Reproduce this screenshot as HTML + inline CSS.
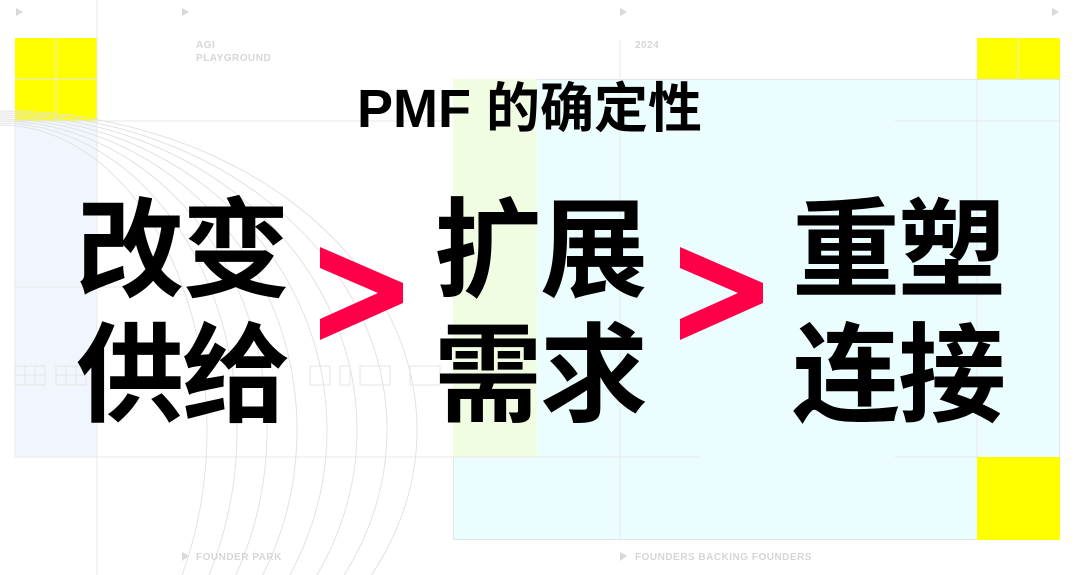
<!DOCTYPE html>
<html><head><meta charset="utf-8"><style>
html,body{margin:0;padding:0;background:#fff;width:1080px;height:575px;overflow:hidden;}
.w{position:relative;width:1080px;height:575px;overflow:hidden;font-family:"Liberation Sans","Noto Sans CJK SC",sans-serif;}
.a{position:absolute;}
.big{position:absolute;font-family:"Noto Sans CJK SC",sans-serif;font-weight:700;font-size:108px;line-height:125px;height:250px;color:#000;letter-spacing:-2px;white-space:nowrap;}
.lbl{position:absolute;font-size:10px;font-weight:bold;color:#d6d6d6;letter-spacing:0.5px;line-height:13px;}
</style></head><body><div class="w">
<div class="a" style="left:15px;top:121px;width:82px;height:336px;background:#f1f6fe"></div>
<div class="a" style="left:453px;top:79px;width:607px;height:461px;background:#ebfdfe;border:1px solid #e2e8ea;box-sizing:border-box"></div>
<div class="a" style="left:453px;top:79px;width:84px;height:378px;background:#f1fde2"></div>
<div class="a" style="left:15px;top:38px;width:82px;height:83px;background:#ffff00"></div>
<div class="a" style="left:977px;top:38px;width:83px;height:41px;background:#ffff00"></div>
<div class="a" style="left:977px;top:457px;width:83px;height:83px;background:#ffff00"></div>
<svg class="a" style="left:0;top:0" width="1080" height="575">
<g stroke="#e8e8e8" stroke-width="1" fill="none">
<line x1="56" y1="38" x2="56" y2="121"/><line x1="15" y1="79" x2="97" y2="79"/>
<line x1="1018" y1="38" x2="1018" y2="79"/>
<line x1="97" y1="0" x2="97" y2="575"/>
<line x1="620" y1="40" x2="620" y2="540"/>
<line x1="977" y1="79" x2="977" y2="457"/>
<line x1="0" y1="121" x2="450" y2="121"/>
<line x1="895" y1="121" x2="1060" y2="121"/>
<line x1="15" y1="457" x2="700" y2="457"/>
<line x1="895" y1="457" x2="977" y2="457"/>
<line x1="15" y1="121" x2="15" y2="457"/>
<line x1="15" y1="287" x2="140" y2="287"/>
</g>
<g stroke="#e2e2e2" stroke-width="1" fill="none">
<ellipse cx="0" cy="430" rx="207" ry="305"/><ellipse cx="0" cy="430" rx="237" ry="307"/><ellipse cx="0" cy="430" rx="267" ry="309"/><ellipse cx="0" cy="430" rx="297" ry="311"/><ellipse cx="0" cy="430" rx="327" ry="313"/><ellipse cx="0" cy="430" rx="357" ry="315"/><ellipse cx="0" cy="430" rx="387" ry="317"/><ellipse cx="0" cy="430" rx="417" ry="319"/>
</g>
<g stroke="#e4e4e4" fill="none">
<rect x="15" y="366" width="30" height="19"/><line x1="25" y1="366" x2="25" y2="385"/><line x1="35" y1="366" x2="35" y2="385"/><line x1="15" y1="375" x2="45" y2="375"/>
<rect x="56" y="366" width="30" height="19"/><line x1="66" y1="366" x2="66" y2="385"/><line x1="76" y1="366" x2="76" y2="385"/><line x1="56" y1="375" x2="86" y2="375"/>
<rect x="310" y="366" width="20" height="19"/><rect x="340" y="366" width="10" height="19"/><rect x="360" y="366" width="30" height="19"/><rect x="410" y="366" width="30" height="19"/>
</g>
<g fill="#d8d8d8">
<polygon points="16,8 16,16 23,12"/><polygon points="182,8 182,16 189,12"/><polygon points="620,8 620,16 627,12"/><polygon points="1052,8 1052,16 1059,12"/>
<polygon points="182,552 182,561 189,556"/><polygon points="620,552 620,561 627,556"/>
</g>
<g fill="#ff0048">
<polygon points="320,247 403,283 403,303 320,340 320,319 378,293 320,268"/>
<polygon points="680,247 763,283 763,303 680,340 680,319 738,293 680,268"/>
</g>
</svg>
<div class="lbl" style="left:196px;top:39px">AGI<br>PLAYGROUND</div>
<div class="lbl" style="left:635px;top:39px">2024</div>
<div class="lbl" style="left:196px;top:551px">FOUNDER PARK</div>
<div class="lbl" style="left:635px;top:551px">FOUNDERS BACKING FOUNDERS</div>
<div class="a" style="left:357px;top:72px;font-size:54px;font-weight:bold;line-height:64px;white-space:nowrap;color:#000">PMF <span style="font-family:'Noto Sans CJK SC',sans-serif;font-weight:700">的确定性</span></div>
<div class="big" style="left:76px;top:180px">改变<br>供给</div>
<div class="big" style="left:434px;top:180px">扩展<br>需求</div>
<div class="big" style="left:792px;top:180px">重塑<br>连接</div>
</div></body></html>
